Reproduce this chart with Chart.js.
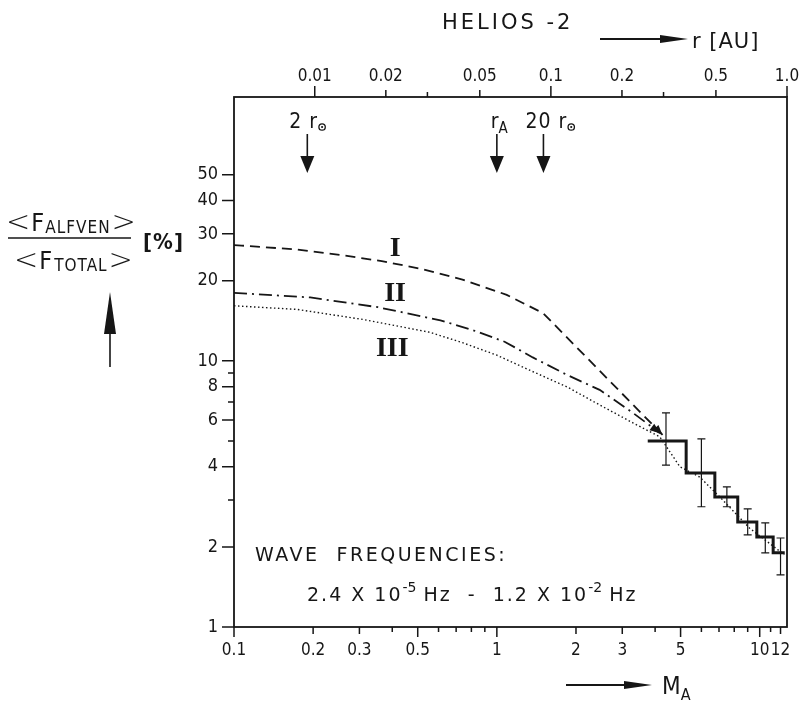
<!DOCTYPE html>
<html>
<head>
<meta charset="utf-8">
<script src="https://cdn.jsdelivr.net/npm/chart.js@4.4.1/dist/chart.umd.min.js"></script>
<style>
  html, body { margin: 0; padding: 0; background: #fff; }
  #wrap { width: 805px; height: 701px; }
</style>
</head>
<body>
<div id="wrap"><canvas id="helios" width="805" height="701"></canvas></div>
<script>
"use strict";

/* model curves: M_A vs <F_alfven>/<F_total> [%] */
var curveIx = [0.1, 0.107, 0.174, 0.253, 0.365, 0.51, 0.74, 1.09, 1.5, 4.27];
var curveIy = [27.2, 27.1, 26.2, 25.0, 23.7, 22.2, 20.2, 17.7, 15.1, 5.27];
var curveIIx = [0.1, 0.195, 0.353, 0.61, 0.80, 1.07, 1.37, 1.85, 2.46, 3.29, 4.17];
var curveIIy = [18.0, 17.3, 15.9, 14.2, 13.1, 11.8, 10.3, 8.85, 7.78, 6.38, 5.36];
var curveIIIx = [0.1, 0.174, 0.31, 0.556, 0.74, 1.0, 1.34, 1.85, 2.46, 3.29, 4.17, 4.97, 5.91, 7.05, 9.16, 12.4];
var curveIIIy = [16.1, 15.6, 14.3, 12.8, 11.7, 10.5, 9.2, 7.98, 6.83, 5.85, 5.18, 4.0, 3.66, 3.08, 2.35, 1.87];

/* Helios-2 measurements */
var binEdges = [3.75, 5.25, 6.75, 8.25, 9.75, 11.25, 12.45];
var binValues = [5.0, 3.79, 3.08, 2.48, 2.18, 1.90];
var errX = [4.4, 6.0, 7.5, 9.0, 10.5, 12.0];
var errHigh = [6.37, 5.09, 3.36, 2.78, 2.46, 2.16];
var errLow = [4.06, 2.83, 2.83, 2.22, 1.90, 1.57];

/* ticks */
var maTicks = [0.1, 0.2, 0.3, 0.4, 0.5, 0.6, 0.7, 0.8, 0.9, 1, 2, 3, 4, 5, 6, 7, 8, 9, 10, 11, 12];
var maLabels = ['0.1', '0.2', '0.3', '', '0.5', '', '', '', '', '1', '2', '3', '', '5', '', '', '', '', '10', '', '12'];
var rTicks = [0.01, 0.02, 0.03, 0.05, 0.1, 0.2, 0.3, 0.5, 1.0];
var rLabels = ['0.01', '0.02', '', '0.05', '0.1', '0.2', '', '0.5', '1.0'];
var pctTicks = [1, 2, 3, 4, 5, 6, 7, 8, 9, 10, 20, 30, 40, 50];
var pctLabels = ['1', '2', '', '4', '', '6', '', '8', '', '10', '20', '30', '40', '50'];

/* markers on top (r in AU / M_A) and curve names */
var markerR = [0.0093, 0.093];
var markerRText = ['2', '20'];
var markerMA = 1;
var curveNames = ['I', 'II', 'III'];
var curveNameX = [0.41, 0.41, 0.40];
var curveNameY = [26.4, 17.8, 11.1];

var INK = '#161616';
var NARROW = '"DejaVu Sans Condensed", "Liberation Sans", sans-serif';
var SANS = '"DejaVu Sans", "Liberation Sans", sans-serif';

function pts(xs, ys) {
    return xs.map(function (x, i) { return { x: x, y: ys[i] }; });
}

function tickSetter(values) {
    return function (scale) {
        scale.ticks = values.map(function (v) { return { value: v }; });
    };
}

function labelFrom(labels) {
    return function (value, index) { return labels[index]; };
}

function arrowHead(ctx, x, y, ang, len, half) {
    var c = Math.cos(ang), s = Math.sin(ang);
    ctx.beginPath();
    ctx.moveTo(x, y);
    ctx.lineTo(x - len * c + half * s, y - len * s - half * c);
    ctx.lineTo(x - len * c - half * s, y - len * s + half * c);
    ctx.closePath();
    ctx.fill();
}

function runs(ctx, x, y, parts) {
    parts.forEach(function (p) {
        ctx.font = p.f;
        ctx.letterSpacing = p.ls || '0px';
        ctx.fillText(p.t, x, y + (p.dy || 0));
        x += ctx.measureText(p.t).width + (p.gap || 0);
    });
    ctx.letterSpacing = '0px';
    return x;
}

var decor = {
    id: 'decor',
    afterDatasetsDraw: function (chart) {
        var ctx = chart.ctx;
        var a = chart.chartArea;
        var sx = chart.scales.x, sx2 = chart.scales.x2, sy = chart.scales.y;
        ctx.save();
        ctx.strokeStyle = INK;
        ctx.fillStyle = INK;

        /* frame */
        ctx.lineWidth = 1.8;
        ctx.strokeRect(a.left, a.top, a.right - a.left, a.bottom - a.top);

        /* tick marks */
        ctx.lineWidth = 1.5;
        ctx.beginPath();
        maTicks.forEach(function (v, i) {
            var px = sx.getPixelForValue(v);
            var dec = Math.abs(Math.log10(v) - Math.round(Math.log10(v))) < 1e-6 || v === 0.5 || v === 5;
            var len = dec ? 10 : (maLabels[i] ? 7 : 5);
            ctx.moveTo(px, a.bottom);
            ctx.lineTo(px, a.bottom + len);
        });
        rTicks.forEach(function (v, i) {
            var px = sx2.getPixelForValue(v);
            var dec = Math.abs(Math.log10(v) - Math.round(Math.log10(v))) < 1e-6;
            var len = dec ? 11 : (rLabels[i] ? 7 : 5);
            ctx.moveTo(px, a.top);
            ctx.lineTo(px, a.top - len);
        });
        pctTicks.forEach(function (v, i) {
            var py = sy.getPixelForValue(v);
            var len = pctLabels[i] ? 12 : 6;
            ctx.moveTo(a.left, py);
            ctx.lineTo(a.left - len, py);
        });
        ctx.stroke();

        /* error bars */
        ctx.lineWidth = 1.2;
        errX.forEach(function (v, i) {
            var px = sx.getPixelForValue(v);
            var hi = sy.getPixelForValue(errHigh[i]);
            var lo = sy.getPixelForValue(errLow[i]);
            ctx.beginPath();
            ctx.moveTo(px, hi); ctx.lineTo(px, lo);
            ctx.moveTo(px - 4, hi); ctx.lineTo(px + 4, hi);
            ctx.moveTo(px - 4, lo); ctx.lineTo(px + 4, lo);
            ctx.stroke();
        });

        /* arrowheads at the end of curves I and II */
        [0, 1].forEach(function (di) {
            var d = chart.getDatasetMeta(di).data;
            var p1 = d[d.length - 2], p2 = d[d.length - 1];
            arrowHead(ctx, p2.x, p2.y, Math.atan2(p2.y - p1.y, p2.x - p1.x), 10, 4);
        });

        /* curve names */
        ctx.font = 'bold 28px "Liberation Serif", serif';
        ctx.textAlign = 'center';
        ctx.textBaseline = 'middle';
        curveNames.forEach(function (n, i) {
            ctx.fillText(n, sx.getPixelForValue(curveNameX[i]), sy.getPixelForValue(curveNameY[i]));
        });

        /* distance markers */
        var markers = [
            { x: sx2.getPixelForValue(markerR[0]), kind: 'sun', t: markerRText[0] },
            { x: sx.getPixelForValue(markerMA), kind: 'alf' },
            { x: sx2.getPixelForValue(markerR[1]), kind: 'sun', t: markerRText[1] }
        ];
        ctx.lineWidth = 1.6;
        markers.forEach(function (m) {
            ctx.beginPath();
            ctx.moveTo(m.x, a.top + 37);
            ctx.lineTo(m.x, a.top + 62);
            ctx.stroke();
            arrowHead(ctx, m.x, a.top + 76, Math.PI / 2, 17, 7);
            ctx.textAlign = 'left';
            ctx.textBaseline = 'alphabetic';
            if (m.kind === 'alf') {
                runs(ctx, m.x - 6, a.top + 31, [
                    { t: 'r', f: '21px ' + NARROW },
                    { t: 'A', f: '15px ' + NARROW, dy: 5 }
                ]);
            } else {
                var ex = runs(ctx, m.x - 18, a.top + 31, [
                    { t: m.t + ' r', f: '21px ' + NARROW, ls: '1px' }
                ]);
                ctx.beginPath();
                ctx.lineWidth = 1.3;
                ctx.arc(ex + 4, a.top + 30, 3.2, 0, Math.PI * 2);
                ctx.stroke();
                ctx.beginPath();
                ctx.arc(ex + 4, a.top + 30, 1.1, 0, Math.PI * 2);
                ctx.fill();
                ctx.lineWidth = 1.6;
            }
        });

        /* frequency note */
        ctx.textAlign = 'left';
        ctx.textBaseline = 'alphabetic';
        runs(ctx, 255, 561, [{ t: 'WAVE  FREQUENCIES:', f: '19px ' + SANS, ls: '2.5px' }]);
        runs(ctx, 307, 601, [
            { t: '2.4 X 10', f: '19px ' + SANS, ls: '2px' },
            { t: '-5', f: '14px ' + SANS, dy: -9, gap: 7 },
            { t: 'Hz  -  1.2 X 10', f: '19px ' + SANS, ls: '2px' },
            { t: '-2', f: '14px ' + SANS, dy: -9, gap: 7 },
            { t: 'Hz', f: '19px ' + SANS, ls: '2px' }
        ]);

        /* titles outside the frame */
        ctx.lineWidth = 1.8;
        runs(ctx, 442, 29, [{ t: 'HELIOS -2', f: '21px ' + SANS, ls: '3px' }]);
        ctx.beginPath(); ctx.moveTo(600, 39); ctx.lineTo(665, 39); ctx.stroke();
        arrowHead(ctx, 688, 39, 0, 28, 4);
        runs(ctx, 692, 48, [{ t: 'r [AU]', f: '21px ' + SANS, ls: '1px' }]);

        ctx.beginPath(); ctx.moveTo(566, 685); ctx.lineTo(630, 685); ctx.stroke();
        arrowHead(ctx, 652, 685, 0, 28, 4);
        runs(ctx, 662, 694, [
            { t: 'M', f: '24px ' + NARROW },
            { t: 'A', f: '16px ' + NARROW, dy: 6 }
        ]);

        /* y axis label: <F_ALFVEN>/<F_TOTAL> [%] */
        runs(ctx, 6, 231, [
            { t: '<', f: '300 29px "DejaVu Sans", sans-serif', gap: 1 },
            { t: 'F', f: '25px ' + NARROW, gap: 1 },
            { t: 'ALFVEN', f: '17px ' + NARROW, dy: 2, ls: '1px', gap: 1 },
            { t: '>', f: '300 29px "DejaVu Sans", sans-serif' }
        ]);
        ctx.lineWidth = 1.6;
        ctx.beginPath(); ctx.moveTo(8, 238); ctx.lineTo(131, 238); ctx.stroke();
        runs(ctx, 14, 269, [
            { t: '<', f: '300 29px "DejaVu Sans", sans-serif', gap: 1 },
            { t: 'F', f: '25px ' + NARROW, gap: 2 },
            { t: 'TOTAL', f: '17px ' + NARROW, dy: 2, ls: '1px', gap: 1 },
            { t: '>', f: '300 29px "DejaVu Sans", sans-serif' }
        ]);
        runs(ctx, 143, 249, [{ t: '[%]', f: 'bold 22px ' + NARROW, ls: '1px' }]);
        ctx.beginPath(); ctx.moveTo(110, 367); ctx.lineTo(110, 325); ctx.stroke();
        arrowHead(ctx, 110, 292, -Math.PI / 2, 42, 6);

        ctx.restore();
    }
};

var axisFont = { family: NARROW, size: 17 };

new Chart(document.getElementById('helios').getContext('2d'), {
    type: 'line',
    data: {
        datasets: [{
            label: 'I',
            data: pts(curveIx, curveIy),
            borderColor: INK,
            borderWidth: 1.8,
            borderDash: [10, 6],
            tension: 0
        }, {
            label: 'II',
            data: pts(curveIIx, curveIIy),
            borderColor: INK,
            borderWidth: 1.8,
            borderDash: [13, 5, 2, 5],
            tension: 0
        }, {
            label: 'III',
            data: pts(curveIIIx, curveIIIy),
            borderColor: INK,
            borderWidth: 1.4,
            borderDash: [1.5, 2.5],
            tension: 0
        }, {
            label: 'HELIOS-2',
            data: pts(binEdges, binValues.concat([binValues[binValues.length - 1]])),
            borderColor: INK,
            borderWidth: 3,
            stepped: 'before'
        }]
    },
    options: {
        responsive: false,
        animation: false,
        layout: { padding: { left: 0, right: 18, top: 0, bottom: 0 } },
        elements: { point: { radius: 0 } },
        plugins: {
            legend: { display: false },
            tooltip: { enabled: false }
        },
        scales: {
            x: {
                type: 'logarithmic',
                position: 'bottom',
                min: 0.1,
                max: 12.7,
                afterFit: function (s) { s.height = 74; },
                afterBuildTicks: tickSetter(maTicks),
                grid: { display: false, drawTicks: true, tickLength: 10 },
                border: { display: false },
                ticks: {
                    callback: labelFrom(maLabels),
                    autoSkip: false, maxRotation: 0, minRotation: 0,
                    padding: 3, color: INK, font: axisFont
                }
            },
            x2: {
                type: 'logarithmic',
                axis: 'x',
                position: 'top',
                min: 0.00455,
                max: 1.0,
                afterFit: function (s) { s.height = 97; },
                afterBuildTicks: tickSetter(rTicks),
                grid: { display: false, drawTicks: true, tickLength: 7 },
                border: { display: false },
                ticks: {
                    callback: labelFrom(rLabels),
                    autoSkip: false, maxRotation: 0, minRotation: 0,
                    padding: 3, color: INK, font: axisFont
                }
            },
            y: {
                type: 'logarithmic',
                position: 'left',
                min: 1,
                max: 98,
                afterFit: function (s) { s.width = 234; },
                afterBuildTicks: tickSetter(pctTicks),
                grid: { display: false, drawTicks: true, tickLength: 12 },
                border: { display: false },
                ticks: {
                    callback: labelFrom(pctLabels),
                    autoSkip: false,
                    padding: 4, color: INK, font: { family: NARROW, size: 18 }
                }
            }
        }
    },
    plugins: [decor]
});
</script>
</body>
</html>
